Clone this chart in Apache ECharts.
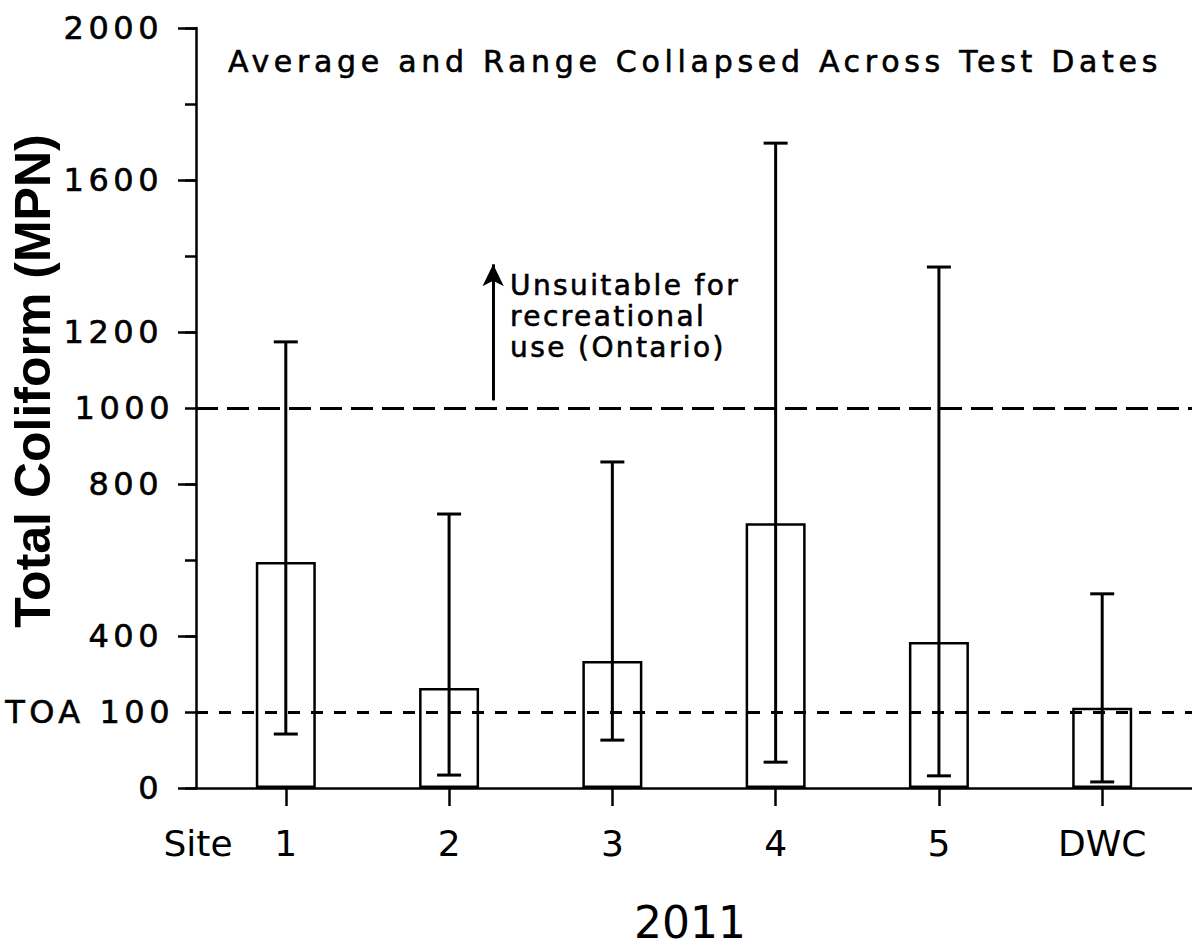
<!DOCTYPE html>
<html>
<head>
<meta charset="utf-8">
<script src="https://cdn.jsdelivr.net/npm/echarts@6/dist/echarts.min.js"></script>
<style>
  html, body { margin: 0; padding: 0; background: #fff; }
  #chart { width: 1192px; height: 948px; }
  /* the original lettering is widely spaced */
  #chart text[style*="30px"] { letter-spacing: 4.7px; }
  #chart text[style*="32px"] { letter-spacing: 4.5px; }
  #chart text[style*="28px"] { letter-spacing: 2.4px; }
</style>
</head>
<body>
<div id="chart"></div>
<script>
var sites = ['1', '2', '3', '4', '5', 'DWC'];
var sitePos = [1, 2, 3, 4, 5, 6];
var means = [595, 263, 334, 697, 384, 211];
var highs = [1174, 721, 858, 1697, 1371, 511];
var lows = [142, 34, 126, 68, 32, 16];

var majorTicks = [0, 400, 800, 1200, 1600, 2000];
var minorLabels = { 200: 'TOA 100', 1000: '1000' };
var recLimit = 1000;   // long dashes
var toaLimit = 200;    // short dashes (labelled TOA 100)
var arrowX = 2.27;
var arrowFrom = 1020, arrowTo = 1378;

var chart = echarts.init(document.getElementById('chart'), null, { renderer: 'svg' });

var font = 'DejaVu Sans';
var black = '#000';

var barData = sitePos.map(function (x, i) { return [x, means[i]]; });
var rangeData = sitePos.map(function (x, i) { return [x, lows[i], highs[i]]; });

function errorBar(params, api) {
    var x = api.value(0);
    var lo = api.coord([x, api.value(1)]);
    var hi = api.coord([x, api.value(2)]);
    var half = 12;
    var st = { stroke: black, lineWidth: 3 };
    return {
        type: 'group',
        children: [
            { type: 'line', shape: { x1: hi[0], y1: hi[1], x2: lo[0], y2: lo[1] }, style: st },
            { type: 'line', shape: { x1: hi[0] - half, y1: hi[1], x2: hi[0] + half, y2: hi[1] }, style: st },
            { type: 'line', shape: { x1: lo[0] - half, y1: lo[1], x2: lo[0] + half, y2: lo[1] }, style: st }
        ]
    };
}

var option = {
    backgroundColor: '#fff',
    animation: false,
    grid: { left: 196, right: 0, top: 28, bottom: 160, containLabel: false, outerBoundsMode: 'none' },
    xAxis: {
        type: 'value',
        min: 0.45,
        max: 6.55,
        splitLine: { show: false },
        axisLine: { show: true, lineStyle: { color: black, width: 2.5 } },
        axisTick: { show: true, length: 18, customValues: sitePos, lineStyle: { color: black, width: 2.5 } },
        axisLabel: {
            customValues: sitePos,
            margin: 37,
            color: black,
            fontFamily: font,
            fontSize: 36,
            formatter: function (v) { return sites[Math.round(v) - 1]; }
        }
    },
    yAxis: [{
        type: 'value',
        position: 'left',
        min: 0,
        max: 2000,
        interval: 400,
        splitLine: { show: false },
        axisLine: { show: true, lineStyle: { color: black, width: 2.5 } },
        axisTick: { show: true, length: 18, lineStyle: { color: black, width: 2.5 } },
        axisLabel: {
            customValues: majorTicks,
            margin: 33,
            color: black,
            fontFamily: font,
            fontSize: 32,
            textBorderColor: black,
            textBorderWidth: 0.6,
            formatter: function (v) { return String(v); }
        }
    }, {
        type: 'value',
        position: 'left',
        min: 0,
        max: 2000,
        interval: 200,
        splitLine: { show: false },
        axisLine: { show: false },
        axisTick: { show: true, length: 11, lineStyle: { color: black, width: 2.5 } },
        axisLabel: {
            customValues: [200, 1000],
            margin: 22,
            color: black,
            fontFamily: font,
            fontSize: 32,
            textBorderColor: black,
            textBorderWidth: 0.6,
            formatter: function (v) { return minorLabels[v] || ''; }
        }
    }],
    graphic: [
        {
            type: 'text', x: 695, y: 61,
            style: { text: 'Average and Range Collapsed Across Test Dates', fill: black,
                stroke: black, lineWidth: 0.6,
                font: '30px "DejaVu Sans"', align: 'center', verticalAlign: 'middle' }
        },
        {
            type: 'text', x: 33, y: 381, rotation: Math.PI / 2,
            style: { text: 'Total Coliform (MPN)', fill: black,
                font: 'bold 50px "Liberation Sans"', align: 'center', verticalAlign: 'middle' }
        },
        {
            type: 'text', x: 198, y: 843,
            style: { text: 'Site', fill: black, font: '36px "DejaVu Sans"', align: 'center', verticalAlign: 'middle' }
        },
        {
            type: 'text', x: 690, y: 922,
            style: { text: '2011', fill: black, font: '44px "DejaVu Sans"', align: 'center', verticalAlign: 'middle' }
        },
        {
            type: 'text', x: 510, y: 316,
            style: { text: 'Unsuitable for\nrecreational\nuse (Ontario)', fill: black, lineHeight: 31,
                stroke: black, lineWidth: 0.6,
                font: '28px "DejaVu Sans"', align: 'left', verticalAlign: 'middle' }
        }
    ],
    series: [
        {
            type: 'bar',
            barWidth: 60,
            data: barData,
            itemStyle: { color: '#fff', borderColor: black, borderWidth: 2.5 },
            silent: true
        },
        {
            type: 'custom',
            renderItem: errorBar,
            data: rangeData,
            z: 4,
            silent: true,
            markLine: {
                silent: true,
                z: 5,
                symbol: ['none', 'none'],
                label: { show: false },
                data: [
                    { yAxis: recLimit, lineStyle: { color: black, width: 3, type: [22, 9] } },
                    { yAxis: toaLimit, lineStyle: { color: black, width: 3, type: [12, 11] } },
                    [
                        { coord: [arrowX, arrowFrom], symbol: 'none' },
                        { coord: [arrowX, arrowTo], symbol: 'arrow', symbolSize: [16, 22],
                          lineStyle: { color: black, width: 3, type: 'solid' } }
                    ]
                ]
            }
        }
    ]
};

chart.setOption(option);
</script>
</body>
</html>
